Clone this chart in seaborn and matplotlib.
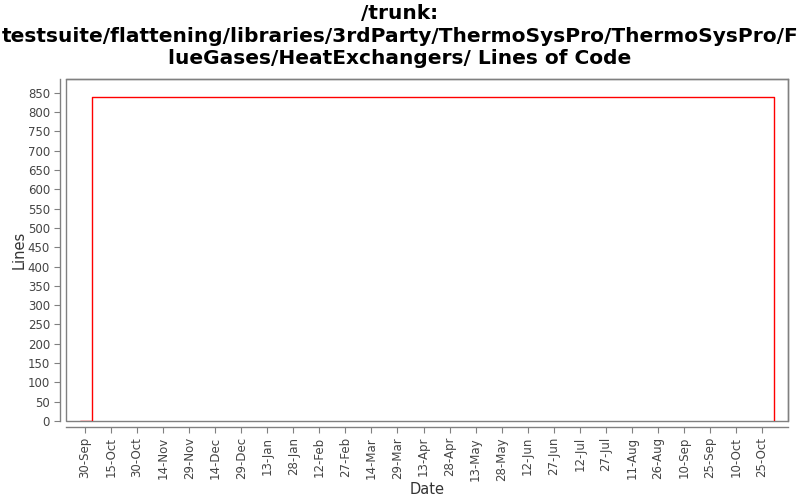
import numpy as np
import matplotlib
matplotlib.use("Agg")
import matplotlib.pyplot as plt
import matplotlib.dates as mdates
from matplotlib.patches import Rectangle
import seaborn as sns
import pandas as pd

sns.set_style("white")
plt.rcParams['font.family'] = ['DejaVu Sans']

# data
dates = ["2008-09-27", "2008-10-04", "2009-11-01"]
lines = [0, 840, 0]
tick_start = "2008-09-30"
tick_end = "2009-10-25"
x_limits = ["2008-09-19", "2009-11-09"]
title = ("/trunk:\ntestsuite/flattening/libraries/3rdParty/ThermoSysPro/ThermoSysPro/F\n"
         "lueGases/HeatExchangers/ Lines of Code")

df = pd.DataFrame({"Date": pd.to_datetime(dates), "Lines": lines})

fig = plt.figure(figsize=(8, 5), dpi=100)
ax = fig.add_axes([66 / 800, 1 - 421 / 500, 722 / 800, 342 / 500])

sns.lineplot(data=df, x="Date", y="Lines", ax=ax, color="#ff0000",
             linewidth=1.0, drawstyle="steps-post")

ax.set_xlim(pd.to_datetime(x_limits[0]), pd.to_datetime(x_limits[1]))
ax.set_ylim(0, 886)
ax.set_yticks(np.arange(0, 851, 50))
ticks = pd.date_range(tick_start, tick_end, freq="15D")
ax.set_xticks(ticks)
ax.xaxis.set_major_formatter(mdates.DateFormatter("%-d-%b"))

grey = "#808080"
for side in ["top", "right"]:
    ax.spines[side].set_color(grey)
    ax.spines[side].set_linewidth(1.0)
for side in ["left", "bottom"]:
    ax.spines[side].set_position(("outward", 4))
    ax.spines[side].set_color(grey)
    ax.spines[side].set_linewidth(1.0)
ax.add_patch(Rectangle((0, 0), 1, 1, transform=ax.transAxes, fill=False,
                       edgecolor=grey, linewidth=1.0, clip_on=False, zorder=0))

ax.tick_params(axis="both", colors=grey, labelcolor="#444444", labelsize=8.5,
               length=4, width=0.8, direction="out", left=True, bottom=True)
plt.setp(ax.get_xticklabels(), rotation=90)

ax.set_xlabel("Date", fontsize=10.5, color="#333333", labelpad=1)
ax.set_ylabel("Lines", fontsize=10.5, color="#333333", labelpad=1)
fig.text(0.5, 1 - 36 / 500, title, ha="center", va="center", fontsize=14.5,
         fontweight="bold", linespacing=1.24, color="black")

fig.savefig("out.png", dpi=100)
